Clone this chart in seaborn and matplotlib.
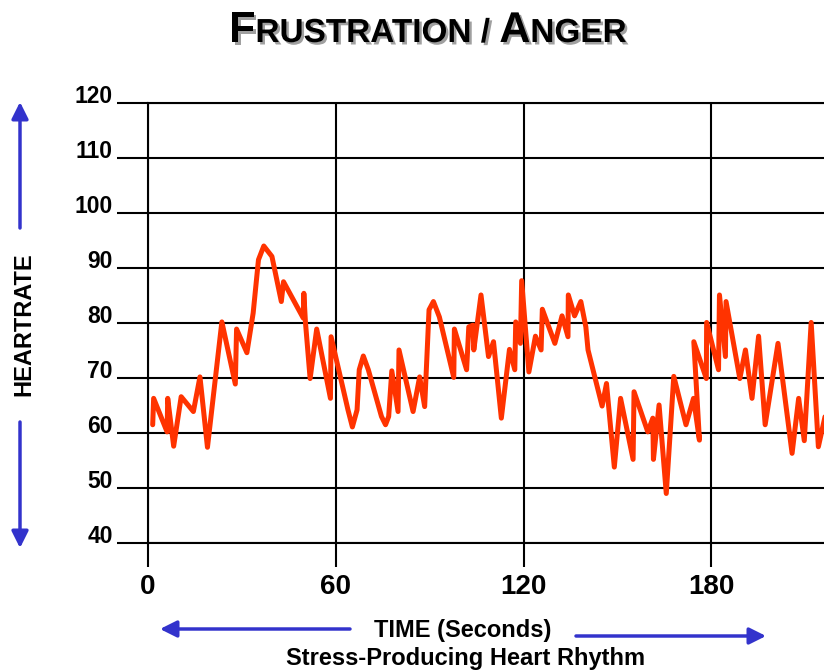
import matplotlib
matplotlib.use('Agg')
import matplotlib.pyplot as plt
import matplotlib.patheffects as pe
from matplotlib.offsetbox import TextArea, HPacker, AnnotationBbox
import seaborn as sns
import pandas as pd

# heart rate trace (seconds, beats per minute)
time_s = [1.5, 1.8, 6.1, 6.3, 8.2, 10.6, 14.5, 16.6, 19.0, 23.6,
          27.9, 28.3, 31.6, 33.6, 35.3, 37.0, 39.6, 42.6, 43.3, 49.6,
          49.8, 50.3, 51.8, 53.9, 58.3, 58.5, 63.9, 65.3, 66.8, 67.5,
          68.8, 70.4, 74.6, 75.9, 76.9, 77.9,
          79.9, 80.2, 84.7, 86.8, 88.4, 89.8, 91.2, 93.1, 97.7, 97.9, 101.8, 102.5,
          103.8, 104.1, 106.4, 108.8, 110.4, 112.9, 115.5, 117.2, 117.5, 119.0,
          119.4, 121.7, 123.8, 125.6, 126.0, 130.0, 132.3, 134.2, 134.3, 136.3,
          138.3, 139.9, 140.6, 145.1, 146.5, 149.0, 151.0, 155.0, 155.3, 159.7,
          161.3, 161.5, 163.3, 165.6, 168.0, 171.9, 174.3, 176.2, 174.4, 178.4,
          178.5, 182.3, 182.6, 184.5, 184.7, 189.1, 190.9, 193.0, 195.1, 197.2,
          201.3, 205.8, 207.9, 209.7, 211.9, 214.2, 215.6, 217.5]
heart_rate = [61.5, 66.3, 60.2, 66.3, 57.6, 66.6, 63.9, 70.2, 57.4, 80.2,
              68.9, 78.9, 74.6, 81.8, 91.5, 94.0, 92.1, 83.9, 87.5, 80.9,
              85.4, 80.2, 69.9, 78.9, 66.3, 77.5, 64.2, 61.1, 64.2, 71.5,
              74.0, 71.5, 63.0, 61.5, 63.0, 71.3,
              63.9, 75.1, 63.9, 70.2, 64.8, 82.4, 83.9, 81.1, 70.1, 78.9, 71.5, 79.3,
              79.6, 75.1, 85.1, 73.9, 76.6, 62.7, 75.2, 71.5, 80.2, 76.3,
              87.7, 71.1, 77.6, 75.1, 82.5, 76.3, 81.3, 77.5, 85.1, 81.3,
              83.9, 79.3, 75.1, 64.9, 69.0, 53.8, 66.3, 55.2, 67.5, 60.2,
              62.7, 55.2, 65.1, 49.0, 70.3, 61.5, 66.3, 58.7, 76.6, 69.9,
              80.1, 71.5, 85.1, 73.9, 83.9, 69.9, 75.1, 66.3, 77.6, 61.5,
              76.3, 56.3, 66.3, 58.6, 80.1, 57.5, 61.1, 66.0]

x_ticks = [0, 60, 120, 180]
y_ticks = [40, 50, 60, 70, 80, 90, 100, 110, 120]

title_parts = ['F', 'RUSTRATION / ', 'A', 'NGER']
title_big = [True, False, True, False]

sns.set_theme(style='white')
NARROW = ['Liberation Sans Narrow', 'Liberation Sans', 'DejaVu Sans']
WIDE = ['Liberation Sans', 'DejaVu Sans']
plt.rcParams['font.family'] = NARROW
plt.rcParams['text.color'] = 'black'
plt.rcParams['xtick.color'] = 'black'
plt.rcParams['ytick.color'] = 'black'

W, H = 824, 672
fig = plt.figure(figsize=(W / 100, H / 100), dpi=100)
ax = fig.add_axes([148 / W, (H - 543) / H, (W - 148) / W, 440 / H])

df = pd.DataFrame({'time': time_s, 'hr': heart_rate})
sns.lineplot(data=df, x='time', y='hr', sort=False, estimator=None,
             color='#FF3300', lw=3.6, ax=ax, zorder=3,
             solid_joinstyle='round', solid_capstyle='round')

ax.set_xlim(0, 216)
ax.set_ylim(40, 120)
ax.set_xticks(x_ticks)
ax.set_yticks(y_ticks)
ax.set_xlabel('')
ax.set_ylabel('')
ax.grid(True, color='black', lw=1.5)
ax.set_axisbelow(True)
ax.tick_params(axis='y', length=22.3, width=1.5, color='black', labelcolor='black',
               direction='out', pad=3, labelsize=16.5, left=True)
ax.tick_params(axis='x', length=17.3, width=1.5, color='black', labelcolor='black',
               direction='out', pad=5, labelsize=20, bottom=True)
for lbl in ax.get_yticklabels():
    lbl.set_fontfamily(WIDE)
    lbl.set_fontweight('bold')
    lbl.set_va('baseline')
for lbl in ax.get_xticklabels():
    lbl.set_fontfamily(NARROW)
    lbl.set_fontweight('bold')
for side in ['top', 'bottom', 'left']:
    ax.spines[side].set_color('black')
    ax.spines[side].set_linewidth(1.5)
ax.spines['right'].set_visible(False)

# title in small caps with a grey shadow
shadow = [pe.SimplePatchShadow(offset=(1.8, -1.8), shadow_rgbFace='#888888', alpha=0.8), pe.Normal()]
boxes = []
for part, big in zip(title_parts, title_big):
    boxes.append(TextArea(part, textprops=dict(size=31 if big else 24, weight='bold',
                                               family=NARROW, color='black',
                                               path_effects=shadow)))
title = HPacker(children=boxes, align='baseline', pad=0, sep=0)
ab = AnnotationBbox(title, (428 / W, 1 - 31 / H), xycoords='figure fraction',
                    frameon=False, box_alignment=(0.5, 0.5))
fig.add_artist(ab)

# axis captions and blue arrows
blue = '#3333CC'
arrow = dict(arrowstyle='-|>,head_length=0.5,head_width=0.25', color=blue, lw=2.5,
             mutation_scale=20, shrinkA=0, shrinkB=0)


def fig_arrow(x0, y0, x1, y1):
    ax.annotate('', xy=(x1 / W, 1 - y1 / H), xytext=(x0 / W, 1 - y0 / H),
                xycoords='figure fraction', textcoords='figure fraction',
                arrowprops=arrow, annotation_clip=False)


fig_arrow(20, 228, 20, 102)
fig_arrow(20, 422, 20, 548)
fig_arrow(350, 629, 160, 629)
fig_arrow(576, 636, 766, 636)

fig.text(24 / W, 1 - 324 / H, 'HEARTRATE', rotation=90, ha='center', va='center',
         fontsize=17, weight='bold', family=WIDE)
fig.text(463 / W, 1 - 630 / H, 'TIME (Seconds)', ha='center', va='center',
         fontsize=17, weight='bold', family=NARROW)
fig.text(466 / W, 1 - 659 / H, 'Stress-Producing Heart Rhythm', ha='center', va='center',
         fontsize=17, weight='bold', family=NARROW)

fig.savefig('out.png', dpi=100)
